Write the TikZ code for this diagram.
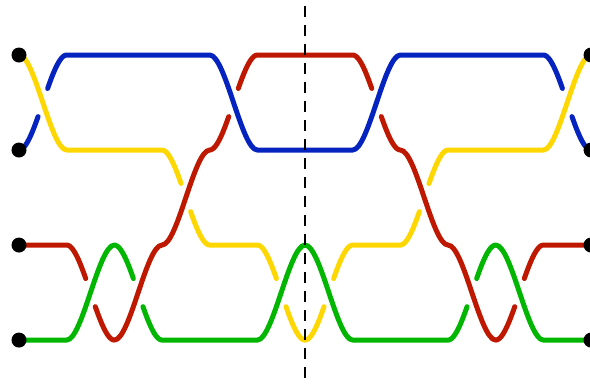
\documentclass[tikz,border=0pt]{standalone}
\definecolor{strandblue}{RGB}{5,35,190}
\definecolor{strandred}{RGB}{190,25,0}
\definecolor{strandyellow}{RGB}{255,215,0}
\definecolor{strandgreen}{RGB}{0,182,0}
\tikzset{
  strand/.style={line width=2.5pt, line cap=round, line join=round},
  gapfirst/.style={domain=0:0.4, smooth},
  gapsecond/.style={domain=0.6:1, smooth},
  dot/.style={circle, fill=black, inner sep=0pt, minimum size=7.5pt}
}
\begin{document}
\begin{tikzpicture}[x=23.83pt, y=-47.5pt, samples=15, variable=\t,
  declare function={sx(\t)=3*(1-\t)^2*\t*0.33+3*(1-\t)*\t^2*0.67+\t^3; sy(\t)=3*\t^2-2*\t^3;}]
\useasboundingbox (-0.3986,-0.5789) rectangle (11.978,3.4526);
\coordinate (L1) at (0,0);
\coordinate (L2) at (0,1);
\coordinate (L3) at (0,2);
\coordinate (L4) at (0,3);
\coordinate (R1) at (12,0);
\coordinate (R2) at (12,1);
\coordinate (R3) at (12,2);
\coordinate (R4) at (12,3);
\coordinate (T) at (6,-0.516);
\coordinate (B) at (6,3.41);

\draw[strand, strandyellow] (L1) .. controls +(0.33,0) and +(-0.33,0) .. (1,1) -- (3,1)
  -- plot[gapfirst] ({3+sx(\t)},{1+sy(\t)}) plot[gapsecond] ({3+sx(\t)},{1+sy(\t)})
  -- (5,2)
  -- plot[gapfirst] ({5+sx(\t)},{2+sy(\t)}) plot[gapsecond] ({5+sx(\t)},{2+sy(\t)})
  -- plot[gapfirst] ({6+sx(\t)},{3-sy(\t)}) plot[gapsecond] ({6+sx(\t)},{3-sy(\t)})
  -- (8,2)
  -- plot[gapfirst] ({8+sx(\t)},{2-sy(\t)}) plot[gapsecond] ({8+sx(\t)},{2-sy(\t)})
  -- (11,1) .. controls +(0.33,0) and +(-0.33,0) .. (R1);

\draw[strand, strandblue] (L2)
  -- plot[gapfirst] ({sx(\t)},{1-sy(\t)}) plot[gapsecond] ({sx(\t)},{1-sy(\t)})
  -- (4,0) .. controls +(0.33,0) and +(-0.33,0) .. (5,1) -- (7,1)
  .. controls +(0.33,0) and +(-0.33,0) .. (8,0) -- (11,0)
  -- plot[gapfirst] ({11+sx(\t)},{sy(\t)}) plot[gapsecond] ({11+sx(\t)},{sy(\t)});

\draw[strand, strandred] (L3) -- (1,2)
  -- plot[gapfirst] ({1+sx(\t)},{2+sy(\t)}) plot[gapsecond] ({1+sx(\t)},{2+sy(\t)})
  .. controls +(0.33,0) and +(-0.33,0) .. (3,2)
  .. controls +(0.33,0) and +(-0.33,0) .. (4,1)
  -- plot[gapfirst] ({4+sx(\t)},{1-sy(\t)}) plot[gapsecond] ({4+sx(\t)},{1-sy(\t)})
  -- (7,0)
  -- plot[gapfirst] ({7+sx(\t)},{sy(\t)}) plot[gapsecond] ({7+sx(\t)},{sy(\t)})
  .. controls +(0.33,0) and +(-0.33,0) .. (9,2)
  .. controls +(0.33,0) and +(-0.33,0) .. (10,3)
  -- plot[gapfirst] ({10+sx(\t)},{3-sy(\t)}) plot[gapsecond] ({10+sx(\t)},{3-sy(\t)})
  -- (R3);

\draw[strand, strandgreen] (L4) -- (1,3)
  .. controls +(0.33,0) and +(-0.33,0) .. (2,2)
  -- plot[gapfirst] ({2+sx(\t)},{2+sy(\t)}) plot[gapsecond] ({2+sx(\t)},{2+sy(\t)})
  -- (5,3) .. controls +(0.33,0) and +(-0.33,0) .. (6,2)
  .. controls +(0.33,0) and +(-0.33,0) .. (7,3) -- (9,3)
  -- plot[gapfirst] ({9+sx(\t)},{3-sy(\t)}) plot[gapsecond] ({9+sx(\t)},{3-sy(\t)})
  .. controls +(0.33,0) and +(-0.33,0) .. (11,3) -- (R4);

\draw[line width=1.3pt, dash pattern=on 5.5pt off 4pt] (T) -- (B);

\node[dot] (D1) at (L1) {};
\node[dot] (D2) at (L2) {};
\node[dot] (D3) at (L3) {};
\node[dot] (D4) at (L4) {};
\node[dot] (D5) at (R1) {};
\node[dot] (D6) at (R2) {};
\node[dot] (D7) at (R3) {};
\node[dot] (D8) at (R4) {};
\end{tikzpicture}
\end{document}
